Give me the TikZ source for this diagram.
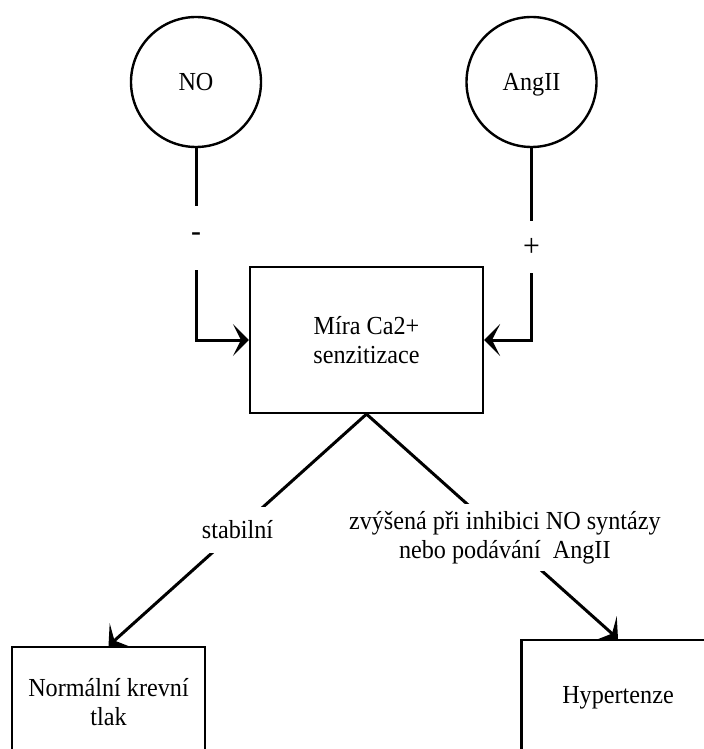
\documentclass[tikz,border=0pt]{standalone}
\usepackage{fontspec}
\setmainfont[FakeStretch=0.93]{Liberation Serif}
\usetikzlibrary{arrows.meta,positioning}

\begin{document}
\begin{tikzpicture}[%
    x=0.5pt, y=-0.5pt,
    >={Stealth[length=8pt,width=16pt,inset=4pt]},
    on grid,
    font=\fontsize{13}{14.5}\selectfont,
    latka/.style={circle,draw,line width=1.2pt,minimum size=65pt,inner sep=0pt,
                  text height=8.5pt,text depth=0pt},
    blok/.style={rectangle,draw,line width=1.1pt,align=center,text depth=0pt,
                 minimum width=116.5pt,minimum height=73pt},
    vystup/.style={rectangle,draw,line width=1.1pt,align=center,text depth=0pt,
                   minimum width=96.5pt,minimum height=55pt},
    vliv/.style={line width=1.5pt},
    znak/.style={fill=white,inner sep=0pt,minimum width=10pt,minimum height=30pt,
                 font=\fontsize{16}{18}\selectfont},
    popis/.style={fill=white,inner xsep=3pt,align=center}
    ]
    \clip (0,0) rectangle (704,749);
    \fill[white] (0,0) rectangle (704,749);

    \node[latka] (no) at (196,82) {NO};
    \node[latka] (ang) [right=167.75pt of no] {AngII};
    \node[blok] (ca) [below right=129pt and 85.25pt of no] {Míra Ca2+\\senzitizace};
    \node[vystup] (norm) [below left=181pt and 129pt of ca] {Normální krevní\\tlak};
    \node[vystup] (hyp) [below right=177.5pt and 125.75pt of ca] {Hypertenze};

    \draw[vliv,->] (no) |- node[znak,pos=0.233,minimum height=32pt] {-} (ca);
    \draw[vliv,->] (ang) |- node[znak,pos=0.258,minimum height=26pt] {+} (ca);

    \path[vliv,->] (ca.south) edge node[popis,pos=0.5,inner ysep=7pt] {stabilní} (norm.north);
    \path[vliv,->] (ca.south) edge node[popis,pos=0.55,inner ysep=3.5pt]
        {zvýšená při inhibici NO syntázy\\nebo podávání\ \ AngII} (hyp.north);

\end{tikzpicture}
\end{document}
